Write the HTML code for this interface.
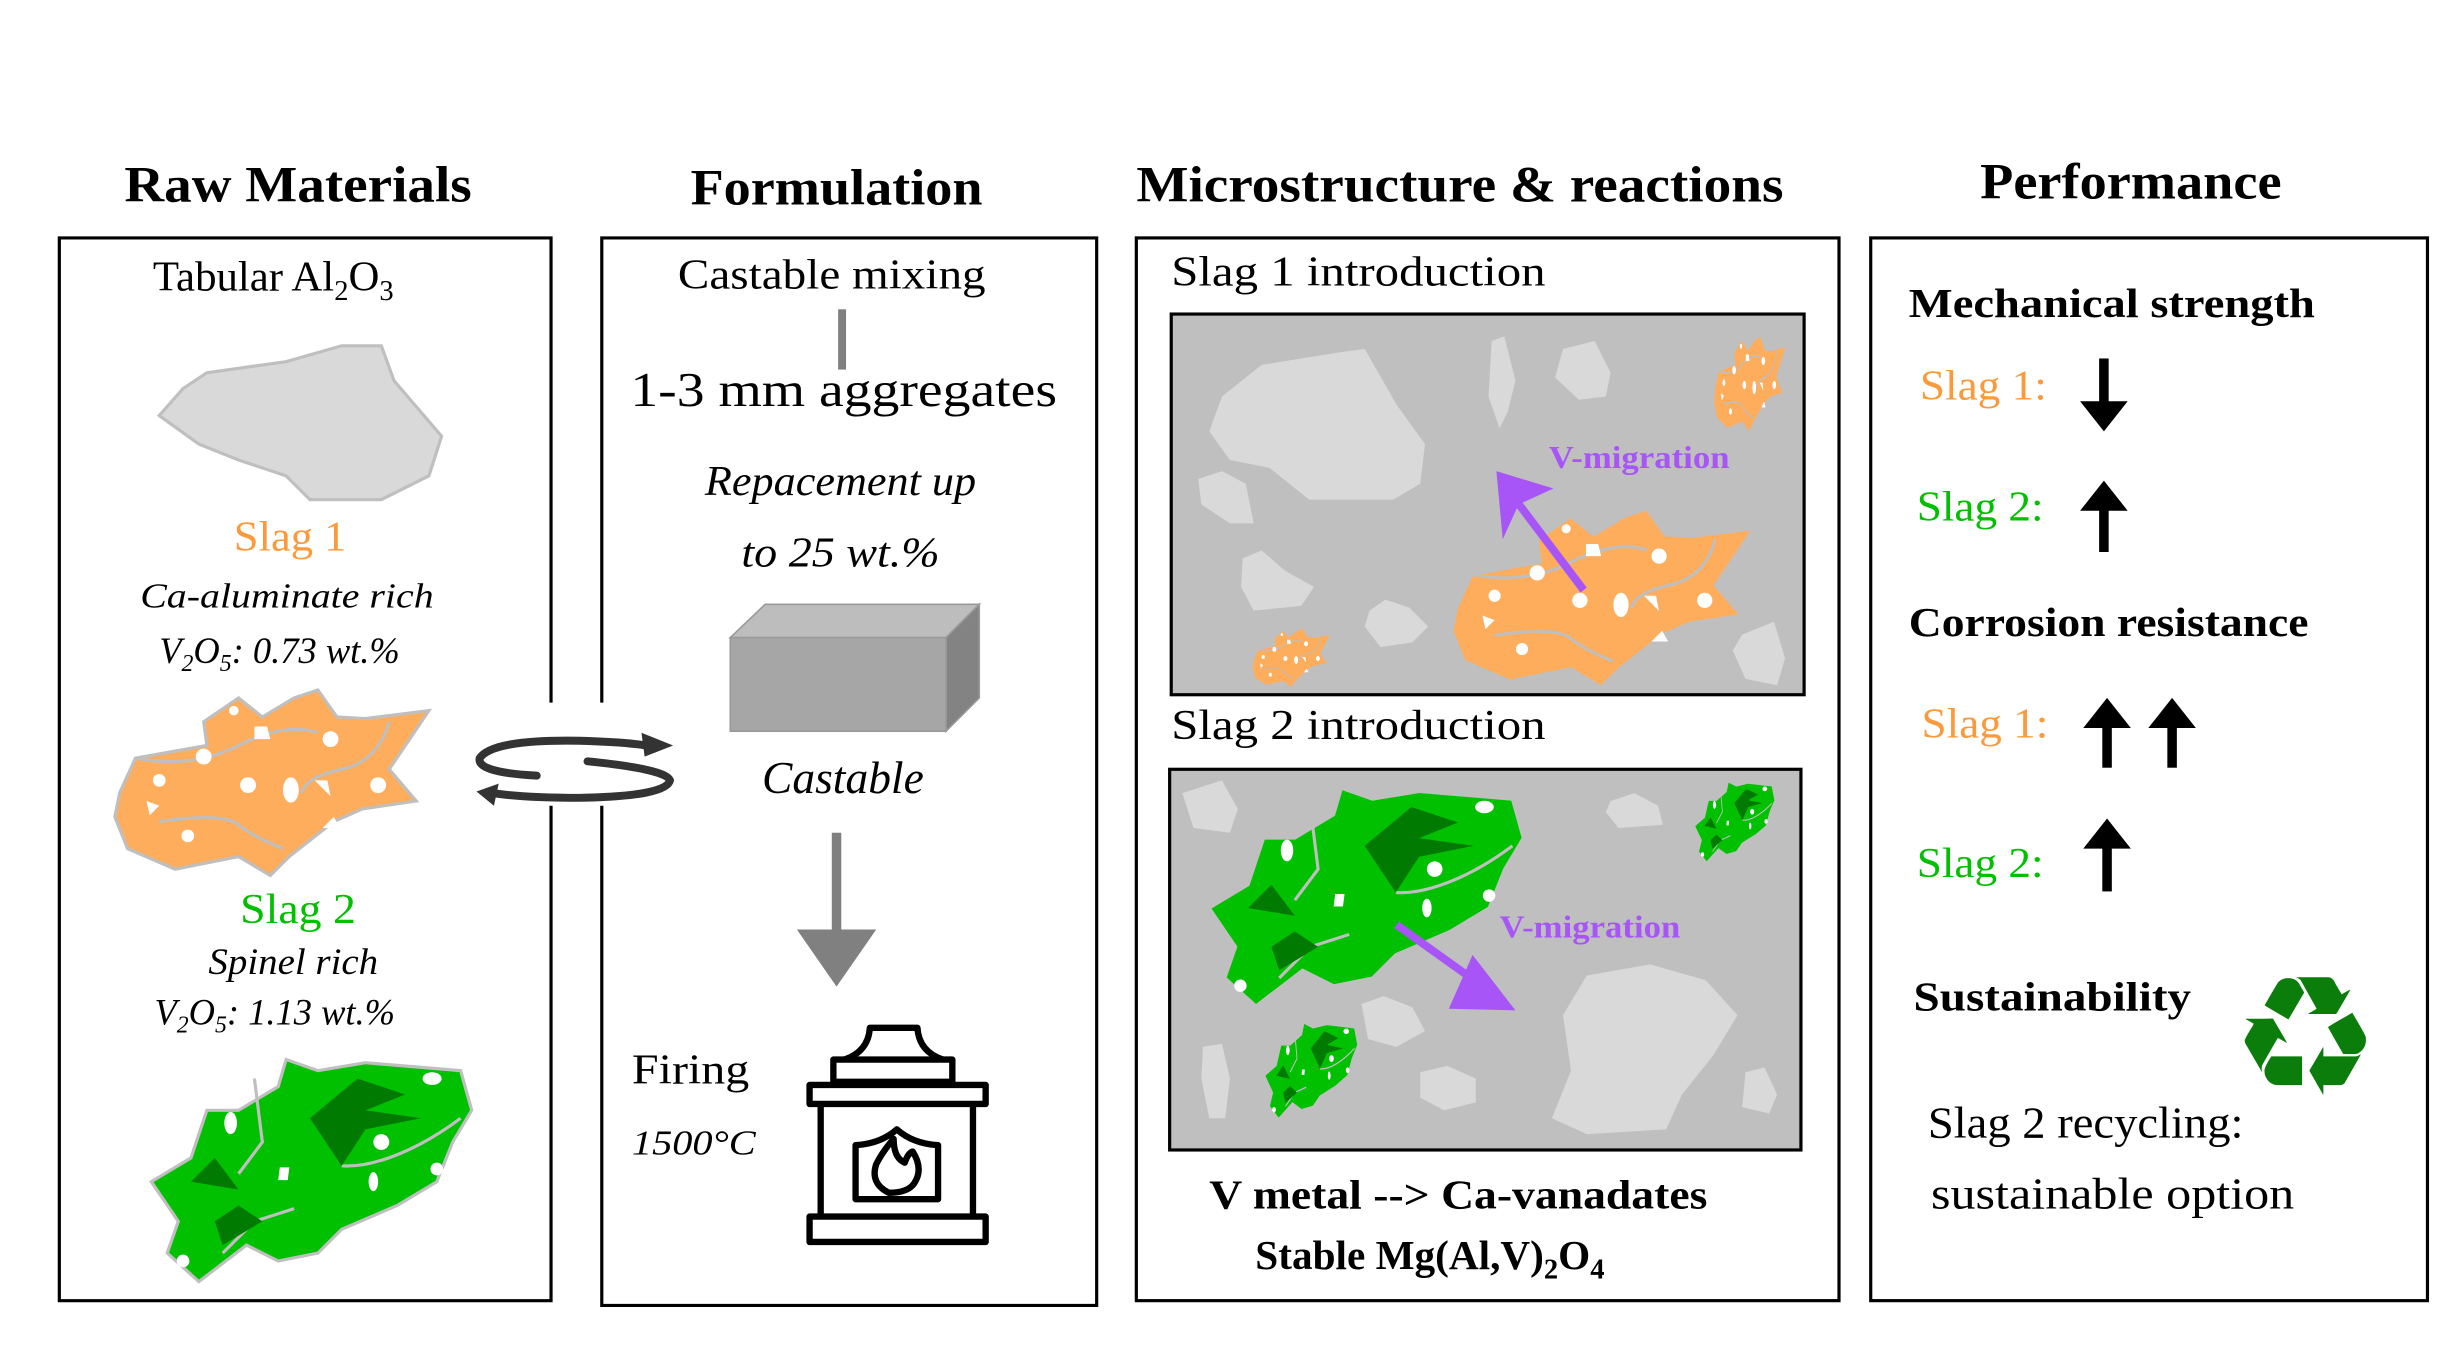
<!DOCTYPE html>
<html><head><meta charset="utf-8"><style>
html,body{margin:0;padding:0;background:#fff;width:2463px;height:1353px;overflow:hidden}
svg{display:block}
text{font-family:"Liberation Serif",serif}
.t{font-weight:bold;font-size:32px}
.b{font-weight:bold;font-size:26px}
.i{font-style:italic}
</style></head><body>
<svg width="2463" height="1353" viewBox="0 0 1552 853" xmlns="http://www.w3.org/2000/svg">
<defs>
<g id="orange">
<path d="M75,500 L85,478 L130,470 L128,455 L150,440 L165,452 L185,440 L200,435 L212,452 L230,453 L270,448 L245,485 L262,505 L228,510 L210,518 L182,540 L170,552 L150,540 L110,548 L80,535 L72,515 Z" fill="#fdad5c" stroke="#bfbfbf" stroke-width="2"/>
<path d="M85,478 Q120,485 150,470 T200,462" fill="none" stroke="#bfbfbf" stroke-width="2"/>
<path d="M245,455 Q238,480 215,485 T190,500" fill="none" stroke="#bfbfbf" stroke-width="2"/>
<path d="M100,518 Q140,512 150,520 T178,535" fill="none" stroke="#bfbfbf" stroke-width="2"/>
<g fill="#fff"><circle cx="100" cy="492" r="4"/><circle cx="128" cy="477" r="5"/><circle cx="156" cy="495" r="5"/><ellipse cx="183" cy="498" rx="5" ry="8"/><circle cx="208" cy="466" r="5"/><circle cx="238" cy="495" r="5"/><circle cx="118" cy="527" r="4"/><circle cx="147" cy="448" r="3"/><path d="M160,458 L168,458 L170,466 L160,466Z"/><path d="M198,492 L206,492 L208,502 Z"/><path d="M203,522 L210,515 L214,522Z"/><path d="M92,505 L100,508 L94,514Z"/></g>
</g>
<g id="green">
<path d="M95,745 L120,730 L130,700 L150,700 L175,685 L180,668 L200,675 L230,670 L290,675 L297,700 L285,720 L275,745 L250,760 L215,775 L200,790 L175,795 L155,785 L125,808 L105,790 L112,770 Z" fill="#00c000" stroke="#bfbfbf" stroke-width="2"/>
<path d="M160,680 L165,720 L150,740" fill="none" stroke="#bfbfbf" stroke-width="2"/>
<path d="M290,705 Q270,720 250,728 T215,735" fill="none" stroke="#bfbfbf" stroke-width="2"/>
<path d="M140,790 L160,770 L185,762" fill="none" stroke="#bfbfbf" stroke-width="2"/>
<g fill="#007a00"><path d="M195,705 L225,680 L255,690 L230,700 L265,705 L230,712 L215,735Z"/><path d="M120,745 L135,730 L150,750Z"/><path d="M135,770 L150,760 L165,770 L140,785Z"/></g>
<g fill="#fff"><ellipse cx="145" cy="708" rx="4" ry="7"/><ellipse cx="272" cy="680" rx="6" ry="4"/><circle cx="240" cy="720" r="5"/><circle cx="275" cy="737" r="4"/><circle cx="115" cy="795" r="4"/><ellipse cx="235" cy="745" rx="3" ry="6"/><path d="M176,736 L182,736 L181,744 L175,744Z"/></g>
</g>
<g id="grayb"><path d="M100,262 L115,245 L130,235 L180,228 L215,218 L240,218 L248,240 L278,275 L270,300 L240,315 L195,315 L180,300 L150,290 L125,280 Z"/></g>
</defs>

<!-- titles -->
<text class="t" x="78" y="127" textLength="219" lengthAdjust="spacingAndGlyphs">Raw Materials</text>
<text class="t" x="435" y="129" textLength="184" lengthAdjust="spacingAndGlyphs">Formulation</text>
<text class="t" x="716" y="127" textLength="408" lengthAdjust="spacingAndGlyphs">Microstructure &amp; reactions</text>
<text class="t" x="1248" y="125" textLength="190" lengthAdjust="spacingAndGlyphs">Performance</text>

<!-- boxes -->
<g fill="none" stroke="#000" stroke-width="2">
<path d="M347,443 L347,150 L37,150 L37,820 L347,820 L347,508"/>
<path d="M379,443 L379,150 L691,150 L691,823 L379,823 L379,508"/>
<rect x="716" y="150" width="443" height="670"/>
<rect x="1179" y="150" width="351" height="670"/>
</g>

<!-- box1 -->
<text x="96" y="183" font-size="27">Tabular Al<tspan font-size="18" dy="6">2</tspan><tspan dy="-6">O</tspan><tspan font-size="18" dy="6">3</tspan></text>
<use href="#grayb" fill="#d9d9d9" stroke="#bfbfbf" stroke-width="2"/>
<text x="147" y="347" font-size="27" fill="#fb9a3c" textLength="71" lengthAdjust="spacingAndGlyphs">Slag 1</text>
<text class="i" x="88" y="383" font-size="22" textLength="185" lengthAdjust="spacingAndGlyphs">Ca-aluminate rich</text>
<text class="i" x="100" y="418" font-size="23">V<tspan font-size="15" dy="5">2</tspan><tspan dy="-5">O</tspan><tspan font-size="15" dy="5">5</tspan><tspan dy="-5">: 0.73 wt.%</tspan></text>
<use href="#orange"/>
<text x="151" y="582" font-size="27" fill="#00c000" textLength="73" lengthAdjust="spacingAndGlyphs">Slag 2</text>
<text class="i" x="131" y="614" font-size="23" textLength="107" lengthAdjust="spacingAndGlyphs">Spinel rich</text>
<text class="i" x="97" y="646" font-size="23">V<tspan font-size="15" dy="5">2</tspan><tspan dy="-5">O</tspan><tspan font-size="15" dy="5">5</tspan><tspan dy="-5">: 1.13 wt.%</tspan></text>
<use href="#green"/>

<!-- cycle -->
<g fill="none" stroke="#333" stroke-width="5" stroke-linecap="round">
<path d="M338,489 Q300,487 302,478 Q310,466 365,467 Q400,468 412,471"/>
<path d="M370,480 Q420,485 422,492 Q420,502 365,503 Q330,503 310,500"/>
</g>
<path d="M404,462 L424,470 L406,477Z" fill="#333"/>
<path d="M314,494 L300,499 L311,508Z" fill="#333"/>

<!-- box2 -->
<text x="427" y="182" font-size="27" textLength="194" lengthAdjust="spacingAndGlyphs">Castable mixing</text>
<rect x="528" y="195" width="5" height="38" fill="#808080"/>
<text x="397" y="256" font-size="31" textLength="269" lengthAdjust="spacingAndGlyphs">1-3 mm aggregates</text>
<text class="i" x="444" y="312" font-size="27" textLength="171" lengthAdjust="spacingAndGlyphs">Repacement up</text>
<text class="i" x="467" y="357" font-size="27" textLength="125" lengthAdjust="spacingAndGlyphs">to 25 wt.%</text>
<polygon points="460,402 482,381 617,381 596,402" fill="#bdbdbd" stroke="#999" stroke-width="1"/>
<polygon points="596,402 617,381 617,440 596,461" fill="#838383" stroke="#999" stroke-width="1"/>
<rect x="460" y="402" width="136" height="59" fill="#a6a6a6" stroke="#999" stroke-width="1"/>
<text class="i" x="480" y="500" font-size="29" textLength="102" lengthAdjust="spacingAndGlyphs">Castable</text>
<rect x="524" y="525" width="6" height="62" fill="#808080"/>
<polygon points="502,586 552,586 527,622" fill="#808080"/>
<text x="398" y="683" font-size="27" textLength="74" lengthAdjust="spacingAndGlyphs">Firing</text>
<text class="i" x="398" y="728" font-size="22" textLength="78" lengthAdjust="spacingAndGlyphs">1500°C</text>
<g fill="none" stroke="#000" stroke-width="4" stroke-linejoin="round">
<path d="M532,668 Q547,663 548,648 L578,648 Q579,663 594,668"/>
<rect x="525" y="668" width="75" height="14"/>
<rect x="510" y="684" width="111" height="12"/>
<path d="M517,696 L517,767 M613,696 L613,767"/>
<rect x="510" y="767" width="111" height="16"/>
<path d="M539,756 L539,722 Q555,721 565,712 Q575,721 591,722 L591,756 Z"/>
<path d="M560,752 Q548,746 552,734 Q556,726 563,718 Q563,730 570,733 Q572,727 575,726 Q582,737 576,746 Q572,752 560,752Z"/>
</g>

<!-- box3 -->
<text x="738" y="180" font-size="27" textLength="236" lengthAdjust="spacingAndGlyphs">Slag 1 introduction</text>
<rect x="738" y="198" width="399" height="240" fill="#bfbfbf" stroke="#000" stroke-width="2"/>
<g fill="#d9d9d9">
<path d="M762,272 L770,250 L795,230 L845,222 L860,220 L880,255 L898,280 L895,305 L878,315 L825,315 L800,295 L775,290Z"/>
<path d="M940,215 L948,212 L955,240 L950,260 L945,270 L938,250Z"/>
<path d="M985,220 L1005,215 L1015,235 L1012,250 L995,252 L980,238Z"/>
<path d="M755,302 L770,297 L785,305 L790,330 L775,330 L757,318Z"/>
<path d="M783,352 L795,347 L810,360 L828,370 L820,382 L790,385 L782,370Z"/>
<path d="M863,385 L873,378 L888,383 L900,395 L890,405 L870,408 L860,395Z"/>
<path d="M1098,400 L1118,392 L1125,415 L1120,432 L1100,428 L1092,410Z"/>
</g>
<use href="#orange" transform="translate(915,318) scale(0.96) translate(-72,-432)"/>
<use href="#orange" transform="translate(789,395) scale(0.25,0.32) translate(-72,-432)"/>
<use href="#orange" transform="translate(1080,210) scale(0.23,0.52) translate(-72,-432)"/>
<line x1="998" y1="372" x2="955" y2="315" stroke="#a855f7" stroke-width="5"/>
<polygon points="943,297 979,308 957,318 947,340" fill="#a855f7"/>
<text x="976" y="295" font-size="20" font-weight="bold" fill="#a855f7" textLength="114" lengthAdjust="spacingAndGlyphs">V-migration</text>

<text x="738" y="466" font-size="27" textLength="236" lengthAdjust="spacingAndGlyphs">Slag 2 introduction</text>
<rect x="737" y="485" width="398" height="240" fill="#bfbfbf" stroke="#000" stroke-width="2"/>
<g fill="#d9d9d9">
<path d="M985,640 L1000,615 L1040,608 L1075,618 L1095,640 L1080,665 L1060,690 L1050,712 L1000,715 L978,705 L990,675Z"/>
<path d="M745,500 L770,492 L780,510 L775,525 L752,522Z"/>
<path d="M1015,505 L1030,500 L1045,508 L1048,520 L1020,522 L1012,512Z"/>
<path d="M858,633 L872,628 L890,635 L898,650 L880,660 L862,655Z"/>
<path d="M758,660 L770,658 L775,680 L772,705 L762,705 L757,680Z"/>
<path d="M895,676 L912,672 L930,680 L930,695 L910,700 L895,692Z"/>
<path d="M1100,676 L1112,673 L1120,690 L1115,702 L1098,698Z"/>
</g>
<use href="#green" transform="translate(762,497) scale(0.98) translate(-95,-668)"/>
<use href="#green" transform="translate(797,645) scale(0.29,0.43) translate(-95,-668)"/>
<use href="#green" transform="translate(1068,493) scale(0.25,0.36) translate(-95,-668)"/>
<line x1="880" y1="583" x2="936" y2="623" stroke="#a855f7" stroke-width="5"/>
<polygon points="928,602 955,637 913,636" fill="#a855f7"/>
<text x="945" y="591" font-size="20" font-weight="bold" fill="#a855f7" textLength="114" lengthAdjust="spacingAndGlyphs">V-migration</text>

<text class="b" x="762" y="762" font-size="27" textLength="314" lengthAdjust="spacingAndGlyphs">V metal --&gt; Ca-vanadates</text>
<text class="b" x="791" y="800" font-size="28">Stable Mg(Al,V)<tspan font-size="18" dy="6">2</tspan><tspan dy="-6">O</tspan><tspan font-size="18" dy="6">4</tspan></text>

<!-- box4 -->
<text class="b" x="1203" y="200" textLength="256" lengthAdjust="spacingAndGlyphs">Mechanical strength</text>
<text x="1210" y="252" font-size="27" fill="#fb9a3c" textLength="80" lengthAdjust="spacingAndGlyphs">Slag 1:</text>
<rect x="1323" y="226" width="6" height="30" fill="#000"/><polygon points="1311,253 1341,253 1326,272" fill="#000"/>
<text x="1208" y="328" font-size="27" fill="#00c000" textLength="80" lengthAdjust="spacingAndGlyphs">Slag 2:</text>
<rect x="1323" y="318" width="6" height="30" fill="#000"/><polygon points="1311,322 1341,322 1326,303" fill="#000"/>
<text class="b" x="1203" y="401" textLength="252" lengthAdjust="spacingAndGlyphs">Corrosion resistance</text>
<text x="1211" y="465" font-size="27" fill="#fb9a3c" textLength="80" lengthAdjust="spacingAndGlyphs">Slag 1:</text>
<rect x="1325" y="455" width="6" height="29" fill="#000"/><polygon points="1313,459 1343,459 1328,440" fill="#000"/>
<rect x="1366" y="455" width="6" height="29" fill="#000"/><polygon points="1354,459 1384,459 1369,440" fill="#000"/>
<text x="1208" y="553" font-size="27" fill="#00c000" textLength="80" lengthAdjust="spacingAndGlyphs">Slag 2:</text>
<rect x="1325" y="532" width="6" height="30" fill="#000"/><polygon points="1313,535 1343,535 1328,516" fill="#000"/>
<text class="b" x="1206" y="637" textLength="175" lengthAdjust="spacingAndGlyphs">Sustainability</text>
<text x="1453" y="690" text-anchor="middle" font-size="105" fill="#0a7d0a" style="font-family:'DejaVu Sans',sans-serif">♻</text>
<text x="1215" y="717" font-size="28" textLength="199" lengthAdjust="spacingAndGlyphs">Slag 2 recycling:</text>
<text x="1217" y="762" font-size="28" textLength="229" lengthAdjust="spacingAndGlyphs">sustainable option</text>
</svg>
</body></html>
